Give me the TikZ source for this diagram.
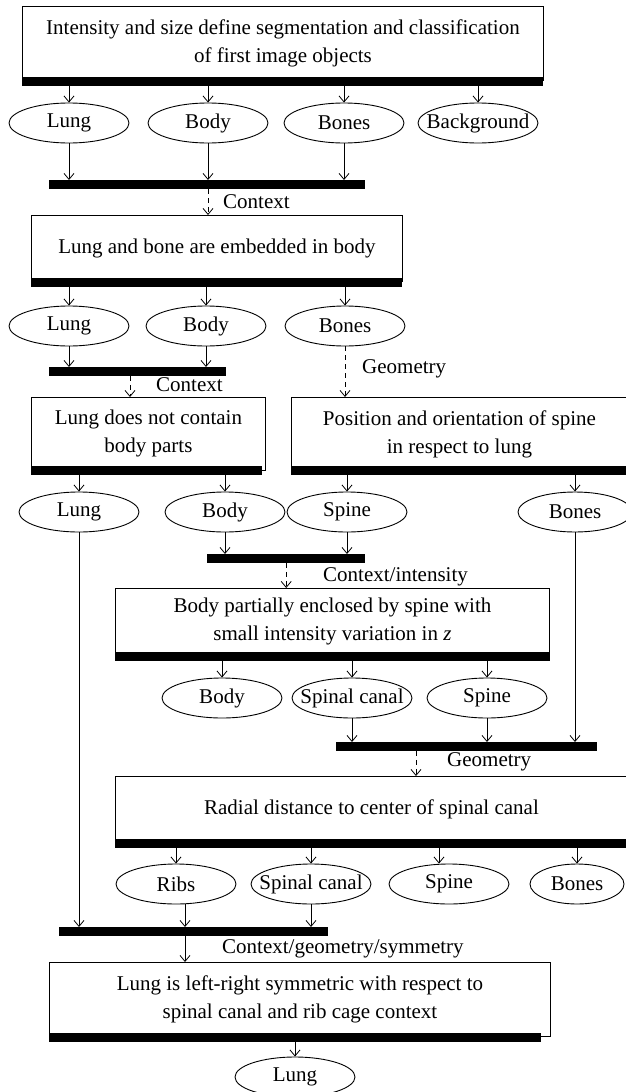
\documentclass[tikz,border=0pt]{standalone}
\usepackage{fontspec}
\setmainfont{Liberation Serif}
\usetikzlibrary{shapes.geometric,arrows.meta}
\begin{document}
\begin{tikzpicture}[x=1pt,y=-1pt,
  font=\fontsize{21}{28}\selectfont,
  box/.style={draw, line width=0.9pt, anchor=north west, inner sep=0pt, align=center},
  barr/.style={fill=black, draw=none, anchor=north west, inner sep=0pt, minimum height=8.5pt},
  ell/.style={ellipse, draw, line width=0.9pt, minimum width=120pt, minimum height=40pt, inner xsep=-14pt, inner ysep=0pt},
  arr/.style={-{Straight Barb[length=6pt,width=10pt]}, line width=0.8pt},
  darr/.style={arr, dash pattern=on 5pt off 4pt},
  lab/.style={anchor=west, inner sep=0pt}]
\fill[white] (0,0) rectangle (625,1092);
\useasboundingbox (0,0) rectangle (625,1092);

% Box 1
\node[box, minimum width=521pt, minimum height=74pt] (b1) at (22,6) {Intensity and size define segmentation and classification\\of first image objects};
\node[barr, minimum width=521pt] (b1bar) at (22,77) {};
\node[ell] (e1lung) at (69,123) {Lung};
\node[ell] (e1body) at (208,123) {Body};
\node[ell] (e1bones) at (344,123) {Bones};
\node[ell] (e1bg) at (478,123) {Background};
\foreach \n in {e1lung,e1body,e1bones,e1bg} \draw[arr] (b1bar.south -| \n.north) -- (\n.north);
\node[barr, minimum width=316pt] (bar2) at (49,180) {};
\foreach \n in {e1lung,e1body,e1bones} \draw[arr] (\n.south) -- (\n.south |- bar2.north);

% Box 2
\node[box, minimum width=371pt, minimum height=66pt] (b2) at (31,215) {Lung and bone are embedded in body};
\node[barr, minimum width=371pt] (b2bar) at (31,278) {};
\draw[darr] (bar2.south -| e1body.south) -- (e1body.south |- b2.north);
\node[lab] (l1) at (223,202) {Context};
\node[ell] (e2lung) at (69,326) {Lung};
\node[ell] (e2body) at (206,326) {Body};
\node[ell] (e2bones) at (345,326) {Bones};
\foreach \n in {e2lung,e2body,e2bones} \draw[arr] (b2bar.south -| \n.north) -- (\n.north);
\node[barr, minimum width=177pt] (bar3) at (49,367) {};
\foreach \n in {e2lung,e2body} \draw[arr] (\n.south) -- (\n.south |- bar3.north);

% Boxes 3 and 4
\node[box, minimum width=234pt, minimum height=73pt] (b3) at (31,397) {Lung does not contain\\body parts};
\node[barr, minimum width=231pt] (b3bar) at (31,466) {};
\node[box, minimum width=336pt, minimum height=73pt] (b4) at (291,397) {Position and orientation of spine\\in respect to lung};
\node[barr, minimum width=336pt] (b4bar) at (291,466) {};
\coordinate (c3) at (130,0);
\draw[darr] (bar3.south -| c3) -- (c3 |- b3.north);
\node[lab] (l2) at (156,385) {Context};
\draw[darr] (e2bones.south) -- (e2bones.south |- b4.north);
\node[lab] (l3) at (362,369) {Geometry};

\node[ell] (e4lung) at (79,512) {Lung};
\node[ell] (e4body) at (225,512) {Body};
\node[ell] (e4spine) at (347,512) {Spine};
\node[ell, minimum width=114pt] (e4bones) at (575,512) {Bones};
\foreach \n in {e4lung,e4body} \draw[arr] (b3bar.south -| \n.north) -- (\n.north);
\foreach \n in {e4spine,e4bones} \draw[arr] (b4bar.south -| \n.north) -- (\n.north);
\node[barr, minimum width=158pt] (bar5) at (207,554) {};
\foreach \n in {e4body,e4spine} \draw[arr] (\n.south) -- (\n.south |- bar5.north);

% Box 5
\node[box, minimum width=434pt, minimum height=67pt] (b5) at (115,588) {Body partially enclosed by spine with\\small intensity variation in \textit{z}};
\node[barr, minimum width=435pt] (b5bar) at (115,652) {};
\draw[darr] (bar5.south) -- (bar5.south |- b5.north);
\node[lab] (l4) at (323,577) {Context/intensity};
\node[ell] (e5body) at (222,698) {Body};
\node[ell] (e5canal) at (352,698) {Spinal canal};
\node[ell] (e5spine) at (487,698) {Spine};
\foreach \n in {e5body,e5canal,e5spine} \draw[arr] (b5bar.south -| \n.north) -- (\n.north);
\node[barr, minimum width=261pt] (bar7) at (336,742) {};
\foreach \n in {e5canal,e5spine,e4bones} \draw[arr] (\n.south) -- (\n.south |- bar7.north);

% Box 7
\node[box, minimum width=512pt, minimum height=66pt] (b7) at (115,776) {Radial distance to center of spinal canal};
\node[barr, minimum width=512pt] (b7bar) at (115,839) {};
\coordinate (c7) at (416,0);
\draw[darr] (bar7.south -| c7) -- (c7 |- b7.north);
\node[lab] (l5) at (447,762) {Geometry};
\node[ell] (e7ribs) at (176,884) {Ribs};
\node[ell] (e7canal) at (311,884) {Spinal canal};
\node[ell] (e7spine) at (449,884) {Spine};
\node[ell, minimum width=94pt] (e7bones) at (577,884) {Bones};
\foreach \n in {e7ribs,e7canal,e7bones} \draw[arr] (b7bar.south -| \n.north) -- (\n.north);
\coordinate (c7s) at (439,0);
\draw[arr] (b7bar.south -| c7s) -- (c7s |- e7spine.north);
\node[barr, minimum width=269pt] (bar8) at (59,927) {};
\coordinate (c8) at (185,0);
\draw[arr] (e7ribs.south -| c8) -- (c8 |- bar8.north);
\draw[arr] (e7canal.south) -- (e7canal.south |- bar8.north);
\draw[arr] (e4lung.south) -- (e4lung.south |- bar8.north);

% Box 8
\node[box, minimum width=501pt, minimum height=74pt] (b8) at (49,962) {Lung is left-right symmetric with respect to\\spinal canal and rib cage context};
\node[barr, minimum width=492pt, minimum height=9pt] (b8bar) at (49,1033) {};
\draw[arr] (bar8.south -| c8) -- (c8 |- b8.north);
\node[lab] (l6) at (222,949) {Context/geometry/symmetry};
\node[ell] (e8lung) at (295,1077) {Lung};
\draw[arr] (b8bar.south -| e8lung.north) -- (e8lung.north);
\end{tikzpicture}
\end{document}
